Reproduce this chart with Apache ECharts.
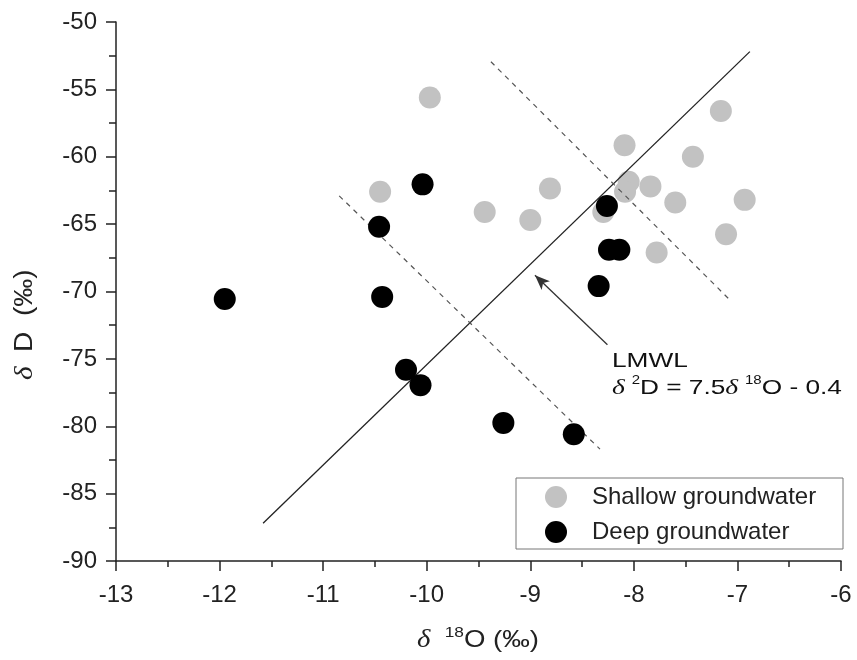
<!DOCTYPE html>
<html>
<head>
<meta charset="utf-8">
<script src="https://cdn.jsdelivr.net/npm/echarts@6/dist/echarts.min.js"></script>
<style>html,body{margin:0;padding:0;background:#fff}#c{width:857px;height:660px}</style>
</head>
<body>
<div id="c"></div>
<script>
// ---- data ----
var xTicks = [-13, -6];           // x axis range (δ18O, ‰)
var yTicks = [-90, -50];          // y axis range (δD, ‰)
var shallowX = [-10.45, -9.97, -9.44, -9.00, -8.81, -8.09, -8.05, -8.085, -8.295, -7.84, -7.60, -7.43, -7.16, -6.93, -7.11, -7.78];
var shallowY = [-62.6, -55.6, -64.1, -64.7, -62.35, -59.15, -61.85, -62.6, -64.1, -62.2, -63.4, -60.0, -56.6, -63.2, -65.75, -67.1];
var deepX = [-11.95, -10.46, -10.43, -10.04, -10.20, -10.06, -9.26, -8.58, -8.26, -8.24, -8.14, -8.34];
var deepY = [-70.55, -65.2, -70.4, -62.05, -75.8, -76.95, -79.75, -80.6, -63.65, -66.9, -66.9, -69.6];
var lmwlX = [-11.58, -6.88];
var lmwlY = [-87.2, -52.2];
var dash1X = [-10.845, -8.327];
var dash1Y = [-62.9, -81.7];
var dash2X = [-9.38, -7.07];
var dash2Y = [-52.95, -70.65];
var arrowFrom = [-8.255, -73.95];
var arrowTo = [-8.955, -68.8];
var seriesNames = ['Shallow groundwater', 'Deep groundwater'];

function zip(a, b) { return a.map(function (v, i) { return [v, b[i]]; }); }

var FONT = 'Liberation Sans';
var SERIF = 'Liberation Serif';
var chart = echarts.init(document.getElementById('c'), null, {renderer: 'canvas'});
chart.setOption({
  backgroundColor: '#fff',
  animation: false,
  grid: {left: 116, right: 16, top: 22, bottom: 99},
  xAxis: {
    type: 'value', min: xTicks[0], max: xTicks[1], interval: 1,
    axisLine: {lineStyle: {color: '#222', width: 1.5}},
    axisTick: {show: true, inside: false, length: 10, lineStyle: {color: '#222', width: 1.5}},
    minorTick: {show: true, splitNumber: 2, length: 6, lineStyle: {color: '#222', width: 1.5}},
    splitLine: {show: false},
    axisLabel: {fontFamily: FONT, fontSize: 24, color: '#222', margin: 22}
  },
  yAxis: {
    type: 'value', min: yTicks[0], max: yTicks[1], interval: 5,
    axisLine: {show: true, lineStyle: {color: '#222', width: 1.5}},
    axisTick: {show: true, inside: false, length: 10, lineStyle: {color: '#222', width: 1.5}},
    minorTick: {show: true, splitNumber: 2, length: 7, lineStyle: {color: '#222', width: 1.5}},
    splitLine: {show: false},
    axisLabel: {fontFamily: FONT, fontSize: 24, color: '#222', margin: 19}
  },
  legend: {
    data: seriesNames,
    orient: 'vertical',
    left: 516, top: 478,
    padding: [7, 10, 5, 29],
    itemGap: 11,
    itemWidth: 22, itemHeight: 22,
    icon: 'circle',
    borderColor: '#777', borderWidth: 1, borderRadius: 0,
    textStyle: {fontFamily: FONT, fontSize: 24, color: '#222', lineHeight: 22, padding: [0, 0, 0, 20], width: 241}
  },
  series: [
    {
      name: seriesNames[0], type: 'scatter', z: 2,
      symbol: 'circle', symbolSize: 22,
      itemStyle: {color: '#c2c2c2', opacity: 1},
      data: zip(shallowX, shallowY)
    },
    {
      name: 'LMWL', type: 'line', z: 3, symbol: 'none', silent: true,
      lineStyle: {color: '#222', width: 1.3},
      data: zip(lmwlX, lmwlY),
      markLine: {
        silent: true, symbol: ['none', 'arrow'], symbolSize: [9, 15],
        label: {show: false},
        lineStyle: {color: '#333', width: 1.3, type: 'solid'},
        data: [[{coord: arrowFrom}, {coord: arrowTo}]]
      }
    },
    {
      name: 'dash1', type: 'line', z: 3, symbol: 'none', silent: true,
      lineStyle: {color: '#555', width: 1.2, type: [5, 5]},
      data: zip(dash1X, dash1Y)
    },
    {
      name: 'dash2', type: 'line', z: 3, symbol: 'none', silent: true,
      lineStyle: {color: '#555', width: 1.2, type: [5, 5]},
      data: zip(dash2X, dash2Y)
    },
    {
      name: seriesNames[1], type: 'scatter', z: 4,
      symbol: 'circle', symbolSize: 22,
      itemStyle: {color: '#000', opacity: 1},
      data: zip(deepX, deepY)
    }
  ],
  graphic: [
    {
      // x axis title
      type: 'text', x: 417, y: 640, scaleX: 1.15, z: 10,
      style: {
        text: '{d|δ  }{s|18}{n|O (‰)}',
        verticalAlign: 'middle', align: 'left',
        rich: {
          d: {fontFamily: SERIF, fontStyle: 'italic', fontSize: 25, fill: '#222', verticalAlign: 'middle', lineHeight: 30},
          s: {fontFamily: FONT, fontSize: 15, fill: '#222', verticalAlign: 'top', lineHeight: 15},
          n: {fontFamily: FONT, fontSize: 24, fill: '#222', verticalAlign: 'middle', lineHeight: 30}
        }
      }
    },
    {
      // y axis title (rotated)
      type: 'text', x: 25, y: 380, rotation: Math.PI / 2, scaleX: 1.12, z: 10,
      style: {
        text: '{d|δ  }{n|D  (‰)}',
        verticalAlign: 'middle', align: 'left',
        rich: {
          d: {fontFamily: SERIF, fontStyle: 'italic', fontSize: 26, fill: '#222', lineHeight: 30},
          n: {fontFamily: FONT, fontSize: 25, fill: '#222', lineHeight: 30}
        }
      }
    },
    {
      type: 'text', x: 612, y: 361, scaleX: 1.25, z: 10,
      style: {text: 'LMWL', fontFamily: FONT, fontSize: 21, fill: '#111', verticalAlign: 'middle', align: 'left'}
    },
    {
      type: 'text', x: 612, y: 388, scaleX: 1.25, z: 10,
      style: {
        text: '{d|δ }{s|2}{n|D = 7.5}{d|δ }{s|18}{n|O - 0.4}',
        verticalAlign: 'middle', align: 'left',
        rich: {
          d: {fontFamily: SERIF, fontStyle: 'italic', fontSize: 22, fill: '#111', verticalAlign: 'middle', lineHeight: 26},
          s: {fontFamily: FONT, fontSize: 12, fill: '#111', verticalAlign: 'top', lineHeight: 12},
          n: {fontFamily: FONT, fontSize: 21, fill: '#111', verticalAlign: 'middle', lineHeight: 26}
        }
      }
    }
  ]
});
</script>
</body>
</html>
